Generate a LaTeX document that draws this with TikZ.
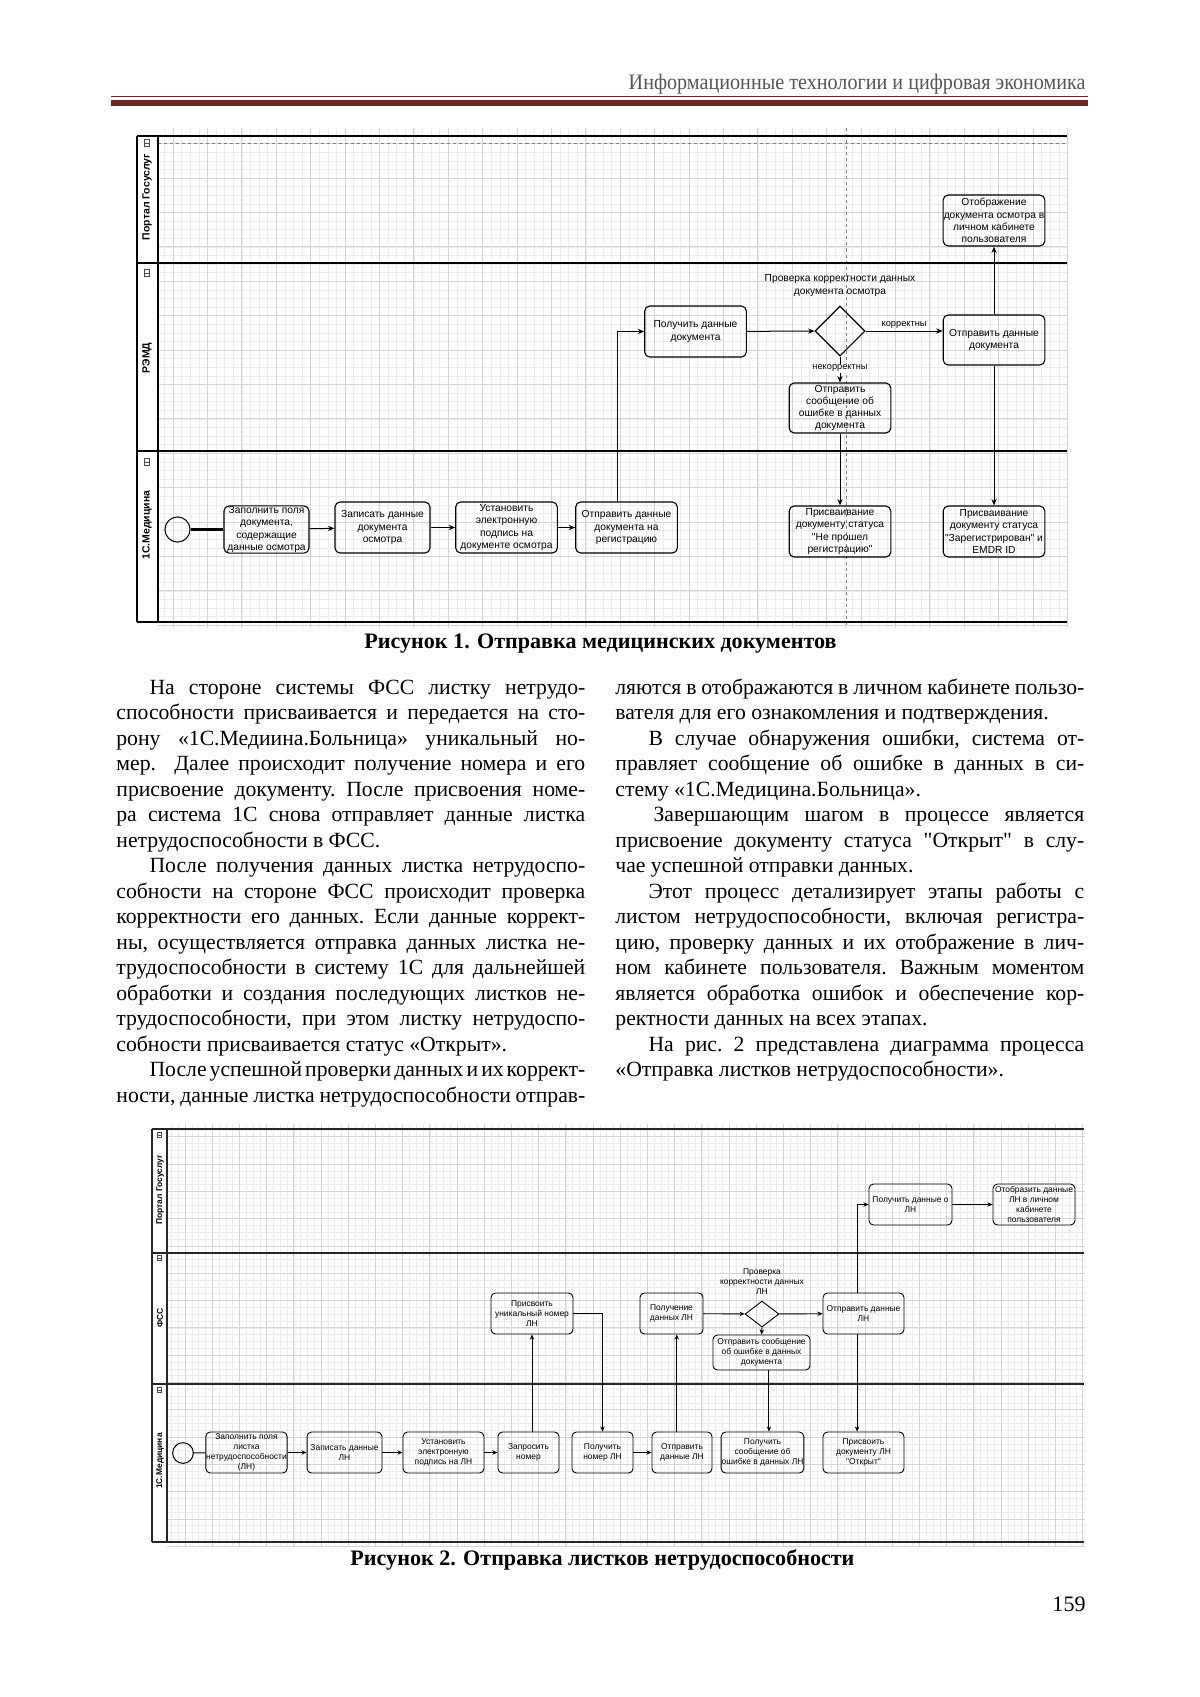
\documentclass[tikz,border=0pt]{standalone}
\usepackage{graphicx}
\usepackage{fontspec}
\setmainfont{Liberation Serif}
\setsansfont{Liberation Sans}
\usetikzlibrary{arrows.meta,shapes.geometric}

\definecolor{hdrred}{RGB}{112,38,38}
\definecolor{hdrgray}{RGB}{85,85,85}
\definecolor{gridmaj}{RGB}{212,212,212}
\definecolor{gridmin}{RGB}{236,236,236}

\newlength{\pind}
\setlength{\pind}{16.5pt}
\newlength{\colw}
\setlength{\colw}{233.5pt}
\newcommand{\bodyset}{\frenchspacing\spaceskip=2.7pt plus 8pt minus 1.5pt\relax}
\newcommand{\jl}[1]{\hbox to \colw{\strut#1}}
\newcommand{\il}[1]{\hbox to \colw{\strut\hspace*{\pind}#1}}
\newcommand{\el}[1]{\hbox to \colw{\strut#1\hfil}}
\newcommand{\q}{\textquotedbl}

\begin{document}
\begin{tikzpicture}[x=0.0175cm, y=-0.0175cm,
  task/.style={draw, rounded corners=2.5pt, line width=0.55pt, align=center,
               inner sep=0.3pt, minimum width=50.6pt, minimum height=25.4pt,
               font=\sffamily\fontsize{5.1}{6.1}\selectfont},
  task2/.style={draw, rounded corners=2.2pt, line width=0.45pt, align=center,
                inner sep=0.2pt, minimum width=40.3pt, minimum height=20.4pt,
                font=\sffamily\fontsize{4.2}{5}\selectfont},
  gate/.style={draw, diamond, inner sep=0pt, line width=0.55pt},
  startev/.style={draw, circle, inner sep=0pt, line width=0.5pt},
  lbl/.style={font=\sffamily\fontsize{5.1}{6.3}\selectfont, align=center, inner sep=0.5pt},
  lbl2/.style={font=\sffamily\fontsize{4.2}{5}\selectfont, align=center, inner sep=0.3pt},
  lanelbl/.style={rotate=90, font=\sffamily\bfseries\fontsize{5.2}{6}\selectfont, inner sep=0pt},
  lanelbl2/.style={rotate=90, font=\sffamily\bfseries\fontsize{4.2}{5}\selectfont, inner sep=0pt},
  lane/.style={line width=0.75pt},
  lane2/.style={line width=0.6pt, black!85},
  pgbreak/.style={gray, line width=0.35pt, dash pattern=on 1.5pt off 1.5pt},
  icon/.style={line width=0.3pt, black!70},
  flow/.style={-{Stealth[length=3.2pt,width=2.6pt]}, line width=0.5pt},
  flow2/.style={-{Stealth[length=2.6pt,width=2.2pt]}, line width=0.45pt},
  bodytxt/.style={inner sep=0pt, text width=233.5pt, font=\fontsize{10.8}{12.7}\selectfont},
  captxt/.style={inner sep=0pt, font=\bfseries\fontsize{11}{13}\selectfont}
]
\useasboundingbox (0,0) rectangle (1200,1697);
\fill[white] (0,0) rectangle (1200,1697);

% running head
\node[anchor=east, inner sep=0pt, text=hdrgray, font=\fontsize{11}{13}\selectfont]
  (hdr) at (1086,84) {\resizebox{227.5pt}{\height}{Информационные технологии и цифровая экономика}};
\fill[hdrred] (111,96) rectangle (1088,97.3);
\fill[hdrred] (111,99.5) rectangle (1088,105.5);

% ---------------- figure 1 ----------------
\begin{scope}
  \clip (158,128) rectangle (1068,628);
  \foreach \i in {0,...,108} \draw[gridmin, line width=0.25pt] ({138.6+8.6*\i},128) -- ({138.6+8.6*\i},628);
  \foreach \j in {0,...,58} \draw[gridmin, line width=0.25pt] (158,{126.4+8.6*\j}) -- (1068,{126.4+8.6*\j});
  \foreach \i in {0,...,27} \draw[gridmaj, line width=0.35pt] ({138.6+34.4*\i},128) -- ({138.6+34.4*\i},628);
  \foreach \j in {0,...,14} \draw[gridmaj, line width=0.35pt] (158,{143.6+34.4*\j}) -- (1068,{143.6+34.4*\j});
\end{scope}
\draw[pgbreak] (158,143) -- (1067,143);
\draw[pgbreak] (846,128) -- (846,628);

\foreach \yy in {136,263,451,622} \draw[lane] (137,\yy) -- (1067,\yy);
\draw[lane] (137,136) -- (137,622);
\draw[lane] (158,136) -- (158,622);
\foreach \yy in {143,273,462} {
  \draw[icon] (144,\yy-3.5) rectangle (149,\yy+3.5);
  \draw[icon] (144,\yy) -- (149,\yy);
}
\node[lanelbl] (lanep1) at (147,197) {Портал Госуслуг};
\node[lanelbl] (laner1) at (147,358) {РЭМД};
\node[lanelbl] (lanem1) at (147,525) {1С.Медицина};

\node[startev, minimum size=12.5pt] (start1) at (177.5,529.5) {};
\node[task, minimum width=42.3pt, minimum height=23.4pt] (fill1) at (266.5,529.5) {Заполнить поля\\документа,\\содержащие\\данные осмотра};
\node[task, minimum width=47.3pt] (rec1)  at (382.5,527.5) {Записать данные\\документа\\осмотра};
\node[task] (sign1) at (506.5,527.5) {Установить\\электронную\\подпись на\\документе осмотра};
\node[task] (send1) at (626.5,527.5) {Отправить данные\\документа на\\регистрацию};
\node[task] (get1)  at (695.5,331.5) {Получить данные\\документа};
\node[gate, minimum width=24.9pt, minimum height=24.9pt] (chk1) at (840,331) {};
\node[lbl] (chk1lbl) at (840,285.5) {Проверка корректности данных\\документа осмотра};
\node[task, minimum height=24.9pt] (out1)  at (994,340) {Отправить данные\\документа};
\node[task, minimum height=24.9pt] (err1)  at (840,408) {Отправить\\сообщение об\\ошибке в данных\\документа};
\node[task] (fail1) at (840,531.5) {Присваивание\\документу статуса\\\q Не прошел\\регистрацию\q};
\node[task] (reg1)  at (994,531.5) {Присваивание\\документу статуса\\\q Зарегистрирован\q{} и\\EMDR ID};
\node[task] (show1) at (994,220.5) {Отображение\\документа осмотра в\\личном кабинете\\пользователя};

\draw[line width=1.3pt] (start1) -- (fill1);
\draw[flow] (fill1) -- (rec1);
\draw[flow] (rec1)  -- (sign1);
\draw[flow] (sign1) -- (send1);
\draw[flow] ([xshift=-4.7pt]send1.north) |- (get1);
\draw[flow] (get1)  -- (chk1);
\draw[flow] (chk1.east) -- node[lbl, above=0.6pt, font=\sffamily\fontsize{4.6}{5}\selectfont]{корректны} (chk1.east -| out1.west);
\draw[flow] (chk1.south) -- node[lbl, fill=white, pos=0.45, font=\sffamily\fontsize{4.6}{5}\selectfont]{некорректны} (err1.north);
\draw[flow] (err1)  -- (fail1);
\draw[flow] (out1)  -- (reg1);
\draw[flow] (out1)  -- (show1);

\node[captxt] (cap1) at (600.5,644) {Рисунок 1. Отправка медицинских документов};

% ---------------- body text ----------------
\node[bodytxt, anchor=north west] (colL) at (116,676) {\bodyset
\il{На стороне системы ФСС листку нетрудо-}
\jl{способности присваивается и передается на сто-}
\jl{рону «1С.Медиина.Больница» уникальный но-}
\jl{мер.\ \ Далее происходит получение номера и его}
\jl{присвоение документу. После присвоения номе-}
\jl{ра система 1С снова отправляет данные листка}
\el{нетрудоспособности в ФСС.}
\il{После получения данных листка нетрудоспо-}
\jl{собности на стороне ФСС происходит проверка}
\jl{корректности его данных. Если данные коррект-}
\jl{ны, осуществляется отправка данных листка не-}
\jl{трудоспособности в систему 1С для дальнейшей}
\jl{обработки и создания последующих листков не-}
\jl{трудоспособности, при этом листку нетрудоспо-}
\el{собности присваивается статус «Открыт».}
\il{После успешной проверки данных и их коррект-}
\jl{ности, данные листка нетрудоспособности отправ-}};

\node[bodytxt, anchor=north west] (colR) at (615,676) {\bodyset
\jl{ляются в отображаются в личном кабинете пользо-}
\el{вателя для его ознакомления и подтверждения.}
\il{В случае обнаружения ошибки, система от-}
\jl{правляет сообщение об ошибке в данных в си-}
\el{стему «1С.Медицина.Больница».}
\il{\hspace*{2.5pt}Завершающим шагом в процессе является}
\jl{присвоение документу статуса \q Открыт\q{} в слу-}
\el{чае успешной отправки данных.}
\il{Этот процесс детализирует этапы работы с}
\jl{листом нетрудоспособности, включая регистра-}
\jl{цию, проверку данных и их отображение в лич-}
\jl{ном кабинете пользователя. Важным моментом}
\jl{является обработка ошибок и обеспечение кор-}
\el{ректности данных на всех этапах.}
\il{На рис. 2 представлена диаграмма процесса}
\el{«Отправка листков нетрудоспособности».}};

% ---------------- figure 2 ----------------
\begin{scope}
  \clip (167,1124) rectangle (1085,1546);
  \foreach \i in {0,...,136} \draw[gridmin, line width=0.25pt] ({157.8+6.8*\i},1124) -- ({157.8+6.8*\i},1546);
  \foreach \j in {0,...,62} \draw[gridmin, line width=0.25pt] (167,{1123.05+6.825*\j}) -- (1085,{1123.05+6.825*\j});
  \foreach \i in {0,...,34} \draw[gridmaj, line width=0.35pt] ({157.8+27.2*\i},1124) -- ({157.8+27.2*\i},1546);
  \foreach \j in {0,...,15} \draw[gridmaj, line width=0.35pt] (167,{1136.7+27.3*\j}) -- (1085,{1136.7+27.3*\j});
\end{scope}

\foreach \yy in {1129,1253,1384,1542} \draw[lane2] (152,\yy) -- (1084,\yy);
\draw[lane2] (152,1129) -- (152,1542);
\draw[lane2] (167,1129) -- (167,1542);
\foreach \yy in {1135,1258,1390} {
  \draw[icon] (157.5,\yy-2.5) rectangle (161.5,\yy+2.5);
  \draw[icon] (157.5,\yy) -- (161.5,\yy);
}
\node[lanelbl2] (lanep2) at (160,1190) {Портал Госуслуг};
\node[lanelbl2] (lanef2) at (160,1318) {ФСС};
\node[lanelbl2] (lanem2) at (160,1461) {1С.Медицина};

\node[startev, minimum size=10.3pt] (start2) at (183,1453) {};
\node[task2] (fill2) at (246.5,1452.5) {Заполнить поля\\листка\\нетрудоспособности\\(ЛН)};
\node[task2, minimum width=37.3pt] (rec2)  at (344.5,1452.5) {Записать данные\\ЛН};
\node[task2] (sign2) at (443.5,1452.5) {Установить\\электронную\\подпись на ЛН};
\node[task2, minimum width=30.4pt] (req2)  at (528.5,1452.5) {Запросить\\номер};
\node[task2, minimum width=30.4pt] (num2)  at (602.5,1452.5) {Получить\\номер ЛН};
\node[task2, minimum width=29.9pt] (send2) at (682,1452.5) {Отправить\\данные ЛН};
\node[task2] (msg2)  at (762.5,1452.5) {Получить\\сообщение об\\ошибке в данных ЛН};
\node[task2] (open2) at (863.5,1452.5) {Присвоить\\документу ЛН\\\q Открыт\q};
\node[task2, minimum width=40.8pt] (uid2) at (532,1313.5) {Присвоить\\уникальный номер\\ЛН};
\node[task2, minimum width=31.4pt] (recv2) at (671.5,1313.5) {Получение\\данных ЛН};
\node[gate, line width=0.45pt, minimum width=16.9pt, minimum height=12.9pt] (chk2) at (762,1314) {};
\node[lbl2] (chk2lbl) at (762,1282) {Проверка\\корректности данных\\ЛН};
\node[task2, minimum width=48.3pt, minimum height=17.4pt] (err2) at (761.5,1352.5) {Отправить сообщение\\об ошибке в данных\\документа};
\node[task2] (fwd2)  at (863.5,1313.5) {Отправить данные\\ЛН};
\node[task2, minimum width=41.3pt] (getp2) at (910.5,1204.5) {Получить данные о\\ЛН};
\node[task2, minimum width=40.8pt] (show2) at (1034,1204.5) {Отобразить данные\\ЛН в личном\\кабинете\\пользователя};

\draw[line width=0.45pt] (start2) -- (fill2);
\draw[flow2] (fill2) -- (rec2);
\draw[flow2] (rec2)  -- (sign2);
\draw[flow2] (sign2) -- (req2);
\draw[flow2] (req2.north -| uid2.south) -- (uid2.south);
\draw[flow2] (uid2.east) -| (num2.north);
\draw[flow2] (num2)  -- (send2);
\draw[flow2] ([xshift=-2.6pt]send2.north) -- ([xshift=-2.6pt]send2.north |- recv2.south);
\draw[flow2] (recv2) -- (chk2);
\draw[flow2] (chk2)  -- (fwd2);
\draw[flow2] (chk2.south) -- (err2.north);
\draw[flow2] ([xshift=3.7pt]err2.south) -- ([xshift=3.7pt]err2.south |- msg2.north);
\draw[flow2] ([xshift=-3.2pt]fwd2.north) |- (getp2);
\draw[flow2] ([xshift=-3.2pt]fwd2.south) -- ([xshift=-3.2pt]fwd2.south |- open2.north);
\draw[flow2] (getp2) -- (show2);

\node[captxt] (cap2) at (602.5,1560) {Рисунок 2. Отправка листков нетрудоспособности};
\node[anchor=base east, inner sep=0pt, font=\fontsize{11}{13}\selectfont] (pgno) at (1086,1611) {159};
\end{tikzpicture}
\end{document}
